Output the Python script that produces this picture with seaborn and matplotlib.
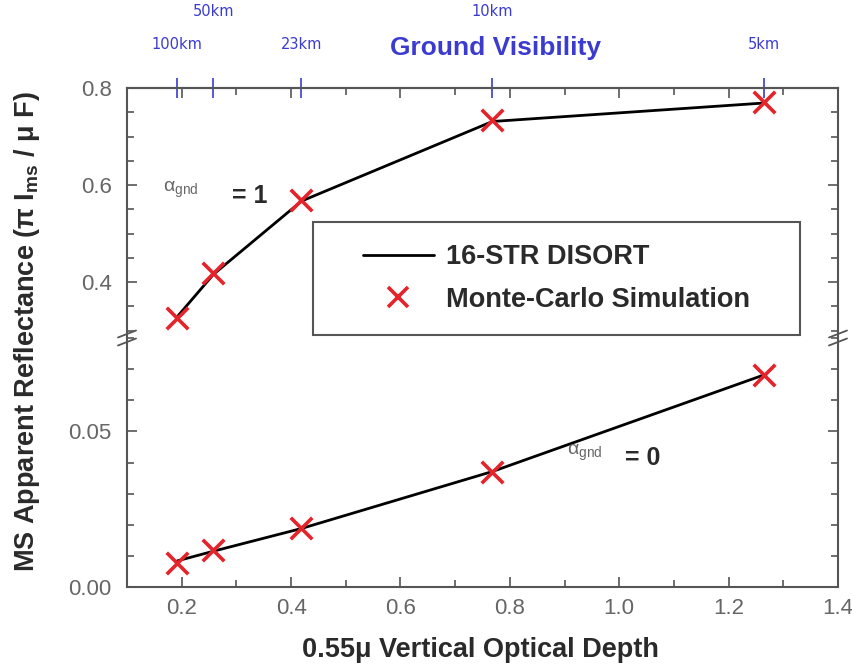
import matplotlib
matplotlib.use("Agg")
import matplotlib.pyplot as plt
import matplotlib.ticker as mticker
from matplotlib.patches import Rectangle
from matplotlib.lines import Line2D
import numpy as np
import pandas as pd
import seaborn as sns

# ---------------- data ----------------
optical_depth = [0.192, 0.258, 0.419, 0.768, 1.264]
visibility_labels = ["100km", "50km", "23km", "10km", "5km"]
disort_alb1 = [0.329, 0.416, 0.567, 0.731, 0.769]
mc_alb1 = [0.327, 0.418, 0.569, 0.734, 0.771]
disort_alb0 = [0.0084, 0.0115, 0.0188, 0.0371, 0.0681]
mc_alb0 = [0.0078, 0.0118, 0.0189, 0.0370, 0.0680]
series_labels = ["16-STR DISORT", "Monte-Carlo Simulation"]

# ---------------- style ----------------
sns.set_theme(style="white")
plt.rcParams["font.family"] = ["Liberation Sans", "DejaVu Sans"]
plt.rcParams["mathtext.default"] = "regular"

GRAY = "#666666"
SPINE = "#555555"
RED = "#e4242a"
BLUE = "#3b3bd0"

W, H = 852, 670
fig = plt.figure(figsize=(W / 100, H / 100), dpi=100)
fig.patch.set_facecolor("white")

L, R, T, B, M = 127, 838, 88, 587, 338
ax_up = fig.add_axes([L / W, 1 - M / H, (R - L) / W, (M - T) / H])
ax_lo = fig.add_axes([L / W, 1 - B / H, (R - L) / W, (B - M) / H])

df_up = pd.DataFrame({"tau": optical_depth, "disort": disort_alb1, "mc": mc_alb1})
df_lo = pd.DataFrame({"tau": optical_depth, "disort": disort_alb0, "mc": mc_alb0})

for ax, df in ((ax_up, df_up), (ax_lo, df_lo)):
    sns.lineplot(data=df, x="tau", y="disort", ax=ax, color="black", lw=2.0,
                 legend=False, zorder=2)
    sns.scatterplot(data=df, x="tau", y="mc", ax=ax, marker="x", s=240,
                    color=RED, linewidth=2.6, legend=False, zorder=3)
    ax.set_xlim(0.1, 1.4)
    ax.set_xlabel("")
    ax.set_ylabel("")
    for s in ax.spines.values():
        s.set_color(SPINE)
        s.set_linewidth(1.5)
    ax.xaxis.set_major_locator(mticker.MultipleLocator(0.2))
    ax.xaxis.set_minor_locator(mticker.MultipleLocator(0.1))
    ax.tick_params(which="both", direction="in", color=SPINE, width=1.2,
                   labelcolor=GRAY, labelsize=16, left=True, right=True)
    ax.tick_params(which="major", length=7)
    ax.tick_params(which="minor", length=5)
    ax.tick_params(axis="y", pad=11)
    ax.set_facecolor("white")

# upper panel
ax_up.set_ylim(0.285, 0.8)
ax_up.yaxis.set_major_locator(mticker.FixedLocator([0.4, 0.6, 0.8]))
ax_up.yaxis.set_major_formatter(mticker.FormatStrFormatter("%.1f"))
ax_up.yaxis.set_minor_locator(mticker.MultipleLocator(0.05))
ax_up.spines["bottom"].set_visible(False)
ax_up.tick_params(axis="x", which="both", bottom=False, top=True, labelbottom=False)

# lower panel
ax_lo.set_ylim(0.0, 0.08)
ax_lo.yaxis.set_major_locator(mticker.FixedLocator([0.0, 0.05]))
ax_lo.yaxis.set_major_formatter(mticker.FormatStrFormatter("%.2f"))
ax_lo.yaxis.set_minor_locator(mticker.MultipleLocator(0.01))
ax_lo.spines["top"].set_visible(False)
ax_lo.tick_params(axis="x", which="both", top=False, bottom=True, pad=8)
ax_lo.xaxis.set_major_formatter(mticker.FormatStrFormatter("%.1f"))

# top visibility axis (two rows of labels)
sec = ax_up.secondary_xaxis("top")
sec.set_xticks(optical_depth,
               labels=[lab if i % 2 == 0 else "" for i, lab in enumerate(visibility_labels)])
sec.tick_params(direction="inout", length=14, width=1.2, color=BLUE,
                labelcolor=BLUE, labelsize=10.5, pad=19)
sec.spines["top"].set_color(SPINE)
sec.spines["top"].set_linewidth(1.5)
sec2 = ax_up.secondary_xaxis("top")
sec2.set_xticks(optical_depth[1::2], labels=visibility_labels[1::2])
sec2.tick_params(length=0, labelcolor=BLUE, labelsize=10.5, pad=50)
sec2.spines["top"].set_visible(False)
for lab in sec.get_xticklabels() + sec2.get_xticklabels():
    lab.set_fontfamily(["DejaVu Sans", "Liberation Sans"])

ax_up.text(0.518, 1.16, "Ground Visibility", transform=ax_up.transAxes,
           ha="center", va="center", color=BLUE, fontsize=19, fontweight="bold")

# legend with separate frame
handles = [Line2D([], [], color="black", lw=2.0),
           Line2D([], [], ls="none", marker="x", ms=15, mew=2.6, color=RED)]
ax_up.add_patch(Rectangle((0.262, 0.012), 0.685, 0.453, transform=ax_up.transAxes,
                          fill=True, facecolor="white", edgecolor=SPINE, lw=1.5, zorder=4))
leg = ax_up.legend(handles, series_labels, loc="center", bbox_to_anchor=(0.604, 0.238),
                   frameon=False, prop={"weight": "bold", "size": 19.5},
                   handlelength=2.6, handletextpad=0.45, labelspacing=0.6)
leg.set_zorder(5)
for t in leg.get_texts():
    t.set_color("#2a2a2a")

# albedo annotations
ax_up.text(0.165, 0.590, r"$\alpha_{gnd}$", color=GRAY, fontsize=14, va="center", ha="left")
ax_up.text(0.292, 0.578, "= 1", color="#2a2a2a", fontsize=18, fontweight="bold",
           va="center", ha="left")
ax_lo.text(0.905, 0.0430, r"$\alpha_{gnd}$", color=GRAY, fontsize=14, va="center", ha="left")
ax_lo.text(1.010, 0.0416, "= 0", color="#2a2a2a", fontsize=18, fontweight="bold",
           va="center", ha="left")

# axis labels
ax_lo.set_xlabel(r"0.55μ Vertical Optical Depth", fontsize=19.5, fontweight="bold",
                 color="#2a2a2a")
ax_lo.xaxis.set_label_coords(0.497, -0.2)
fig.text(27 / W, 1 - 332 / H, r"MS Apparent Reflectance (π I$_{ms}$ / μ F)",
         rotation=90, ha="center", va="center", fontsize=19.5, fontweight="bold",
         color="#2a2a2a")

# axis-break marks on both spines
for xs in (L, R):
    for yc in (M - 4, M + 4):
        fig.add_artist(Line2D([(xs - 9) / W, (xs + 9) / W],
                              [1 - (yc + 3.5) / H, 1 - (yc - 3.5) / H],
                              transform=fig.transFigure, color=SPINE, lw=1.3))

fig.savefig("out.png", dpi=100, facecolor="white")
